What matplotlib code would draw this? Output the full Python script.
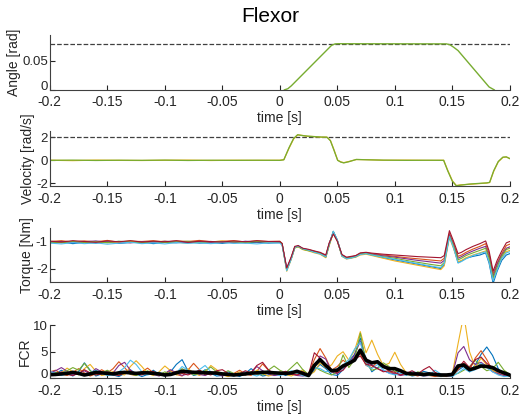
import numpy as np
import matplotlib
matplotlib.use('Agg')
import matplotlib.pyplot as plt
import matplotlib.transforms as mtransforms

plt.rcParams['font.family'] = ['Liberation Sans', 'DejaVu Sans']

# matlab default line colours, in plotting order
colors = ['#0072BD', '#D95319', '#EDB120', '#7E2F8E', '#77AC30', '#4DBEEE', '#A2142F']

xticks = [-0.2, -0.15, -0.1, -0.05, 0, 0.05, 0.1, 0.15, 0.2]
xtick_labels = ['-0.2', '-0.15', '-0.1', '-0.05', '0', '0.05', '0.1', '0.15', '0.2']

# angle
t_angle = [0.004, 0.007, 0.010, 0.014, 0.045, 0.048, 0.051, 0.145, 0.148, 0.151, 0.155, 0.182, 0.1865]
angle = [0.0, 0.002, 0.007, 0.015, 0.077, 0.0795, 0.0798, 0.0795, 0.078, 0.074, 0.068, 0.005, 0.0]
angle_target = 0.08

# velocity
t_vel = [-0.2, -0.18, -0.16, -0.14, -0.12, -0.10, -0.08, -0.06, -0.04, -0.02, 0.0, 0.0035, 0.008,
         0.012, 0.0155, 0.019, 0.024, 0.03, 0.036, 0.041, 0.044, 0.047, 0.0503, 0.053, 0.0556, 0.06,
         0.0665, 0.075, 0.09, 0.11, 0.13, 0.1425, 0.146, 0.150, 0.1535, 0.157, 0.165, 0.172, 0.180,
         0.1825, 0.186, 0.19, 0.194, 0.197, 0.200]
vel_yellow = [0.01, -0.02, 0.02, 0.0, -0.01, 0.01, 0.02, -0.01, 0.01, 0.0, 0.01, 0.06, 1.05, 1.85, 2.2,
              2.17, 2.08, 2.06, 2.0, 2.01, 1.72, 0.95, 0.02, -0.13, -0.2, -0.1, 0.07, 0.06, 0.01, 0.02,
              0.0, 0.01, -0.85, -1.75, -2.18, -2.12, -2.07, -2.02, -1.96, -1.92, -0.95, -0.12, 0.25,
              0.29, 0.16]
vel_green = [0.0, 0.02, -0.01, 0.01, 0.0, 0.02, -0.01, 0.01, 0.0, 0.01, 0.0, 0.05, 1.1, 1.9, 2.22,
             2.15, 2.1, 2.05, 2.02, 2.0, 1.7, 0.9, 0.0, -0.15, -0.22, -0.12, 0.08, 0.05, 0.02, 0.0,
             0.01, 0.0, -0.9, -1.8, -2.2, -2.15, -2.05, -2.0, -1.95, -1.9, -0.9, -0.1, 0.28, 0.3, 0.15]
vel_target = 2

# torque, one list per trial
t_torque = [-0.2, -0.19, -0.18, -0.17, -0.16, -0.15, -0.14, -0.13, -0.12, -0.11, -0.1, -0.09, -0.08,
            -0.07, -0.06, -0.05, -0.04, -0.03, -0.02, -0.01,
            0.0, 0.002, 0.006, 0.010, 0.013, 0.016, 0.020, 0.025, 0.030, 0.035, 0.040, 0.043, 0.0465,
            0.050, 0.054, 0.058, 0.062, 0.066, 0.070, 0.075, 0.080, 0.090, 0.100, 0.110, 0.120, 0.130,
            0.140, 0.143, 0.1475, 0.151, 0.155, 0.158, 0.162, 0.168, 0.174, 0.179, 0.182, 0.1855,
            0.189, 0.193, 0.197, 0.200]
torque_blue = [-1.05, -1.02, -1.08, -1.03, -1.06, -1.01, -1.07, -1.04, -1.02, -1.08, -1.03, -1.05, -1.01,
               -1.06, -1.04, -1.07, -1.02, -1.05, -1.03, -1.06,
               -1.04, -1.12, -2.02, -1.62, -1.22, -1.16, -1.27, -1.33, -1.38, -1.45, -1.58, -1.1, -0.62,
               -0.95, -1.52, -1.63, -1.6, -1.57, -1.47, -1.44, -1.5, -1.6, -1.68, -1.76, -1.84, -1.92,
               -2.0, -1.85, -0.78, -1.2, -1.78, -1.72, -1.62, -1.55, -1.5, -1.42, -1.8, -2.55, -2.1,
               -1.7, -1.5, -1.45]
torque_orange = [-1.0, -0.97, -1.02, -0.98, -1.01, -0.96, -1.03, -0.99, -1.0, -0.97, -1.02, -0.98, -1.0,
                 -0.96, -1.01, -0.99, -0.97, -1.02, -0.98, -1.0,
                 -0.99, -1.08, -2.05, -1.58, -1.2, -1.17, -1.28, -1.3, -1.36, -1.42, -1.52, -1.06, -0.7,
                 -0.98, -1.5, -1.6, -1.57, -1.53, -1.44, -1.42, -1.45, -1.5, -1.55, -1.6, -1.64, -1.68,
                 -1.72, -1.62, -0.7, -1.05, -1.55, -1.5, -1.4, -1.28, -1.18, -1.08, -1.45, -2.2, -1.8,
                 -1.45, -1.15, -1.1]
torque_yellow = [-1.01, -1.04, -0.99, -1.03, -1.0, -1.05, -1.02, -0.98, -1.04, -1.01, -0.99, -1.03, -1.06,
                 -1.0, -1.02, -0.98, -1.04, -1.01, -0.99, -1.02,
                 -1.01, -1.1, -2.1, -1.65, -1.24, -1.2, -1.3, -1.35, -1.42, -1.47, -1.6, -1.15, -0.68,
                 -0.96, -1.55, -1.65, -1.62, -1.58, -1.5, -1.47, -1.52, -1.62, -1.72, -1.8, -1.88, -1.96,
                 -2.04, -1.9, -0.85, -1.25, -1.75, -1.7, -1.6, -1.5, -1.42, -1.35, -1.7, -2.4, -2.0,
                 -1.6, -1.38, -1.33]
torque_purple = [-1.03, -1.0, -1.04, -1.01, -0.98, -1.03, -1.0, -1.05, -1.01, -1.03, -0.99, -1.02, -1.04,
                 -1.0, -1.03, -1.01, -1.05, -0.99, -1.02, -1.01,
                 -1.02, -1.09, -2.0, -1.6, -1.21, -1.18, -1.26, -1.31, -1.37, -1.43, -1.55, -1.08, -0.66,
                 -0.97, -1.5, -1.6, -1.58, -1.54, -1.45, -1.43, -1.47, -1.53, -1.58, -1.64, -1.7, -1.75,
                 -1.8, -1.7, -0.75, -1.12, -1.62, -1.56, -1.46, -1.35, -1.25, -1.18, -1.55, -2.3, -1.85,
                 -1.5, -1.25, -1.2]
torque_green = [-1.02, -1.05, -1.0, -1.03, -1.01, -1.04, -0.99, -1.02, -1.05, -1.0, -1.03, -1.01, -0.99,
                -1.04, -1.0, -1.03, -1.01, -1.04, -1.0, -1.02,
                -1.01, -1.1, -2.06, -1.63, -1.23, -1.19, -1.29, -1.34, -1.39, -1.44, -1.57, -1.12, -0.64,
                -0.96, -1.53, -1.62, -1.6, -1.56, -1.46, -1.44, -1.49, -1.56, -1.62, -1.7, -1.77, -1.84,
                -1.9, -1.78, -0.8, -1.15, -1.68, -1.62, -1.52, -1.42, -1.33, -1.25, -1.6, -2.35, -1.95,
                -1.55, -1.3, -1.25]
torque_lightblue = [-1.06, -1.09, -1.04, -1.08, -1.05, -1.1, -1.06, -1.03, -1.08, -1.05, -1.09, -1.04,
                    -1.07, -1.05, -1.08, -1.04, -1.07, -1.06, -1.09, -1.05,
                    -1.06, -1.13, -2.08, -1.64, -1.22, -1.17, -1.27, -1.32, -1.4, -1.46, -1.56, -1.1, -0.63,
                    -0.94, -1.54, -1.64, -1.61, -1.56, -1.48, -1.45, -1.5, -1.58, -1.66, -1.74, -1.82, -1.9,
                    -1.97, -1.82, -0.82, -1.22, -1.8, -1.74, -1.64, -1.52, -1.44, -1.38, -1.75, -2.45, -2.05,
                    -1.62, -1.42, -1.38]
torque_darkred = [-0.99, -1.02, -0.97, -1.0, -1.03, -0.98, -1.01, -0.97, -1.02, -0.99, -1.01, -0.97, -1.03,
                  -0.99, -1.0, -1.02, -0.98, -1.01, -0.97, -1.0,
                  -1.0, -1.07, -1.98, -1.56, -1.18, -1.15, -1.25, -1.29, -1.35, -1.4, -1.5, -1.05, -0.72,
                  -0.99, -1.48, -1.58, -1.55, -1.52, -1.42, -1.4, -1.43, -1.47, -1.5, -1.53, -1.56, -1.58,
                  -1.6, -1.52, -0.6, -0.98, -1.45, -1.4, -1.3, -1.18, -1.08, -0.98, -1.35, -2.1, -1.7,
                  -1.35, -1.05, -1.0]
torque_trials = [torque_blue, torque_orange, torque_yellow, torque_purple,
                 torque_green, torque_lightblue, torque_darkred]

# fcr emg, sampled every 5 ms from -0.2 to 0.2
t_fcr = np.linspace(-0.2, 0.2, 81)
fcr_blue = [0.5, 0.8, 1.5, 0.9, 0.4, 1.2, 2.9, 1.5, 0.4, 0.8,
            1.4, 0.6, 0.3, 0.9, 1.6, 0.8, 0.3, 0.7, 1.5, 0.7,
            0.4, 1.2, 2.6, 3.5, 1.4, 0.5, 0.8, 1.6, 0.9, 0.4,
            0.5, 1.2, 0.7, 0.3, 0.9, 1.8, 1.0, 0.4, 0.6, 1.2,
            1.0, 0.5, 0.7, 1.4, 0.8, 0.3, 1.5, 2.6, 1.8, 0.7,
            0.5, 1.6, 3.2, 4.5, 7.6, 3.5, 1.2, 2.0, 2.6, 1.5,
            0.7, 1.4, 0.9, 0.4, 0.6, 1.3, 1.0, 0.5, 0.3, 0.4,
            0.5, 1.5, 2.2, 1.2, 2.5, 4.5, 5.9, 4.3, 1.8, 0.7, 0.4]
fcr_orange = [1.2, 1.5, 0.8, 0.5, 1.1, 1.8, 1.0, 0.4, 0.8, 1.6,
              1.0, 1.8, 3.1, 2.0, 0.7, 0.5, 1.2, 1.9, 1.0, 0.5,
              0.8, 1.4, 0.7, 0.4, 1.5, 2.8, 1.6, 0.6, 0.9, 1.3,
              0.7, 0.4, 0.9, 1.5, 0.8, 0.5, 1.3, 2.7, 1.5, 0.6,
              0.8, 1.2, 0.7, 0.6, 1.3, 0.8, 3.5, 5.6, 3.8, 1.5,
              2.2, 3.4, 2.5, 4.0, 4.6, 2.4, 2.0, 3.1, 2.5, 1.2,
              0.9, 0.6, 1.1, 0.7, 0.4, 0.8, 0.5, 0.3, 0.5, 0.6,
              0.4, 1.6, 2.8, 1.5, 3.8, 5.2, 3.5, 1.4, 0.9, 0.6, 0.5]
fcr_yellow = [0.8, 0.5, 1.0, 1.9, 1.2, 0.6, 1.8, 2.6, 1.3, 0.5,
              0.7, 1.3, 0.8, 0.6, 2.2, 3.3, 2.2, 0.9, 0.5, 1.2,
              2.3, 1.4, 0.6, 0.9, 1.8, 1.0, 0.5, 1.1, 2.4, 1.6,
              0.6, 0.3, 0.7, 1.2, 0.6, 0.8, 1.5, 0.9, 0.4, 0.7,
              1.2, 0.7, 0.4, 0.9, 1.6, 0.5, 1.2, 2.9, 2.0, 2.5,
              4.2, 5.0, 3.4, 5.2, 8.8, 4.8, 7.2, 4.5, 2.4, 2.8,
              4.9, 2.6, 1.0, 0.5, 0.8, 0.4, 0.6, 0.9, 0.5, 0.3,
              0.8, 6.5, 12.0, 5.0, 2.0, 3.8, 2.5, 1.5, 0.7, 0.5, 0.6]
fcr_purple = [1.0, 1.4, 2.0, 1.3, 0.6, 0.9, 1.4, 0.8, 1.8, 1.2,
              0.6, 1.0, 2.4, 3.0, 1.5, 0.6, 0.9, 1.2, 0.7, 0.4,
              0.9, 1.6, 1.0, 0.5, 0.8, 1.3, 0.7, 0.5, 1.0, 0.8,
              0.4, 0.8, 0.5, 0.9, 0.6, 1.1, 2.2, 1.4, 0.8, 0.5,
              0.6, 1.0, 0.8, 0.5, 0.4, 0.6, 1.8, 4.2, 3.6, 1.2,
              0.8, 2.2, 2.6, 4.4, 7.0, 3.0, 2.5, 1.8, 1.4, 1.0,
              0.8, 0.5, 0.7, 0.9, 0.6, 0.4, 0.5, 0.8, 0.4, 0.5,
              0.6, 4.8, 6.0, 3.5, 2.6, 3.0, 2.2, 1.2, 0.8, 0.5, 0.4]
fcr_green = [0.6, 1.1, 0.7, 1.4, 2.0, 1.5, 2.8, 1.4, 0.6, 1.0,
             1.5, 0.8, 0.5, 1.2, 0.8, 0.5, 0.9, 1.4, 0.8, 0.6,
             1.2, 0.7, 0.9, 1.8, 1.2, 0.6, 0.9, 1.4, 2.1, 1.2,
             0.8, 1.4, 0.9, 0.5, 0.7, 1.2, 0.8, 0.6, 1.5, 2.3,
             1.5, 1.0, 2.0, 3.0, 1.6, 0.7, 2.2, 1.5, 1.0, 0.6,
             1.2, 4.4, 2.0, 3.5, 8.5, 2.8, 1.5, 1.8, 2.9, 2.2,
             1.2, 1.5, 0.7, 0.6, 1.2, 0.9, 0.5, 0.6, 0.4, 0.5,
             0.6, 0.9, 1.5, 2.2, 3.4, 2.2, 1.4, 1.8, 3.0, 1.5, 0.7]
fcr_lightblue = [1.3, 0.9, 0.5, 0.8, 1.3, 0.7, 0.5, 1.0, 1.5, 0.9,
                 0.5, 0.6, 1.2, 2.0, 3.4, 2.6, 1.2, 0.6, 0.9, 1.1,
                 0.7, 0.5, 1.0, 2.2, 1.5, 0.8, 1.6, 2.4, 1.2, 0.6,
                 0.9, 0.6, 0.4, 0.8, 1.3, 0.7, 0.4, 0.9, 1.4, 0.8,
                 0.5, 0.8, 1.4, 0.9, 0.5, 0.3, 2.0, 1.8, 1.2, 1.5,
                 1.8, 2.5, 3.5, 5.5, 6.8, 2.5, 1.8, 2.6, 1.6, 0.9,
                 0.6, 0.9, 0.5, 1.3, 1.0, 0.4, 0.6, 1.5, 0.8, 0.4,
                 0.3, 1.0, 1.8, 1.2, 1.6, 2.8, 2.0, 1.2, 0.6, 0.3, 0.4]
fcr_darkred = [0.9, 0.6, 1.2, 0.7, 0.5, 0.9, 1.6, 1.0, 0.6, 0.8,
               1.2, 0.7, 0.5, 1.0, 1.4, 0.8, 0.6, 1.1, 1.3, 0.6,
               0.5, 0.8, 1.3, 0.9, 0.6, 1.0, 1.5, 0.9, 0.6, 1.4,
               1.6, 0.9, 0.5, 0.8, 1.4, 1.0, 2.4, 3.0, 1.6, 0.8,
               0.9, 1.3, 0.8, 0.6, 1.0, 0.7, 4.8, 3.8, 2.2, 1.5,
               1.0, 1.5, 2.8, 3.6, 4.2, 2.6, 2.4, 1.8, 1.2, 1.4,
               1.1, 0.6, 0.9, 1.4, 0.8, 1.6, 2.2, 1.1, 0.6, 0.4,
               0.5, 1.8, 3.2, 2.0, 3.5, 4.0, 2.8, 2.0, 1.4, 0.8, 0.5]
fcr_mean = [0.65, 0.7, 0.8, 0.9, 1.1, 0.9, 0.6, 0.8, 1.1, 1.0,
            0.9, 0.8, 1.0, 1.1, 1.0, 0.9, 1.0, 1.0, 0.9, 0.8,
            0.6, 0.7, 1.0, 1.3, 1.2, 1.1, 1.1, 1.0, 1.0, 0.95,
            0.8, 0.7, 0.6, 0.7, 0.8, 0.95, 1.0, 1.1, 1.1, 1.0,
            0.95, 0.9, 1.0, 1.3, 0.9, 0.5, 2.4, 3.5, 2.4, 1.4,
            1.5, 2.3, 2.8, 3.4, 5.3, 3.4, 2.9, 3.1, 2.2, 1.8,
            1.8, 1.4, 0.9, 0.8, 0.8, 0.7, 0.8, 0.7, 0.6, 0.6,
            0.7, 2.3, 2.5, 1.6, 1.9, 2.3, 2.2, 2.0, 1.4, 1.0, 0.6]
fcr_trials = [fcr_blue, fcr_orange, fcr_yellow, fcr_purple,
              fcr_green, fcr_lightblue, fcr_darkred]


def style_axis(ax, ylim, yticks, ytick_labels, ylabel):
    ax.set_xlim(-0.2, 0.2)
    ax.set_ylim(*ylim)
    ax.set_xticks(xticks)
    ax.set_xticklabels(xtick_labels)
    ax.set_yticks(yticks)
    ax.set_yticklabels(ytick_labels)
    ax.set_ylabel(ylabel, fontsize=10, color='#262626', labelpad=1)
    ax.set_xlabel('time [s]', fontsize=10, color='#262626', labelpad=1.5)
    ax.spines['top'].set_visible(False)
    ax.spines['right'].set_visible(False)
    for s in ['left', 'bottom']:
        ax.spines[s].set_color('#404040')
        ax.spines[s].set_linewidth(0.8)
    ax.tick_params(direction='in', length=3.5, width=0.8, labelsize=10,
                   colors='#262626', pad=1.5)
    ax.tick_params(axis='x', pad=4)
    ax.tick_params(axis='y', labelsize=9.5)
    # a y tick sitting on the x axis gets nudged up, clear of the x labels
    if yticks[0] == ylim[0]:
        lab = ax.get_yticklabels()[0]
        lab.set_transform(lab.get_transform() +
                          mtransforms.ScaledTranslation(0, 3 / 72, fig.dpi_scale_trans))


fig = plt.figure(figsize=(5.25, 4.16), dpi=100)
fig.text(0.514, 0.961, 'Flexor', fontsize=15, ha='center', va='center')

# angle
ax1 = fig.add_axes([0.095, 0.784, 0.876, 0.132])
ax1.axhline(angle_target, color='#404040', linestyle='--', linewidth=0.9)
ax1.plot(t_angle, angle, color=colors[4], linewidth=1)
style_axis(ax1, (0, 0.095), [0, 0.05], ['0', '0.05'], 'Angle [rad]')

# velocity
ax2 = fig.add_axes([0.095, 0.552, 0.876, 0.132])
ax2.axhline(vel_target, color='#404040', linestyle='--', linewidth=0.9)
ax2.plot(t_vel, vel_yellow, color=colors[2], linewidth=0.9)
ax2.plot(t_vel, vel_green, color=colors[4], linewidth=0.9)
style_axis(ax2, (-2.25, 2.5), [-2, 0, 2], ['-2', '0', '2'], 'Velocity [rad/s]')

# torque
ax3 = fig.add_axes([0.095, 0.322, 0.876, 0.130])
for i, trial in enumerate(torque_trials):
    ax3.plot(t_torque, trial, color=colors[i], linewidth=0.8)
style_axis(ax3, (-2.5, -0.5), [-2, -1], ['-2', '-1'], 'Torque [Nm]')

# fcr
ax4 = fig.add_axes([0.095, 0.091, 0.876, 0.127])
for i, trial in enumerate(fcr_trials):
    ax4.plot(t_fcr, trial, color=colors[i], linewidth=0.8)
ax4.plot(t_fcr, fcr_mean, color='black', linewidth=2.6)
style_axis(ax4, (0, 10), [0, 5, 10], ['0', '5', '10'], 'FCR')

plt.savefig('out.png', dpi=100)
